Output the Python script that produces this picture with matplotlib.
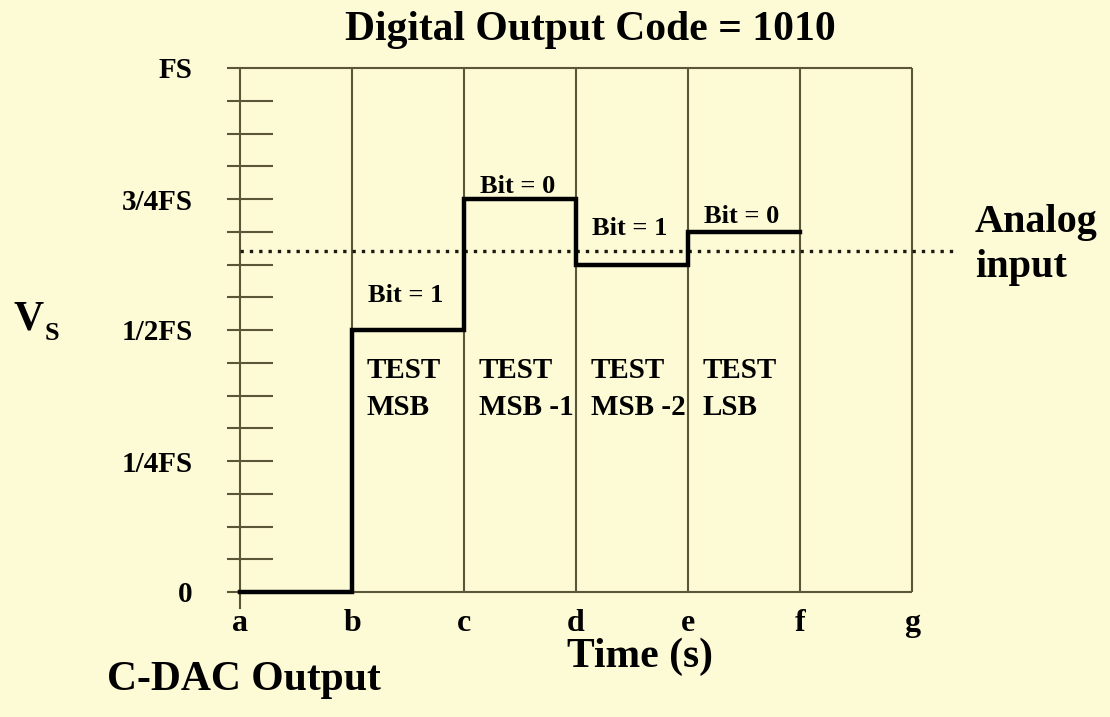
import matplotlib
matplotlib.use("Agg")
import matplotlib.pyplot as plt
import numpy as np

# ---- data ----
time_labels = ['a', 'b', 'c', 'd', 'e', 'f', 'g']
step_edges = [0, 1, 2, 3, 4, 5]                 # a..f
step_levels = [0.0, 0.5, 0.75, 0.625, 0.6875]   # C-DAC output (fraction of FS)
analog_input = 0.65
y_tick_values = [0, 0.25, 0.5, 0.75, 1.0]
y_tick_labels = ['0', '1/4FS', '1/2FS', '3/4FS', 'FS']
bit_labels = ['Bit = 1', 'Bit = 0', 'Bit = 1', 'Bit = 0']
test_labels = ['TEST\nMSB', 'TEST\nMSB -1', 'TEST\nMSB -2', 'TEST\nLSB']

# ---- style ----
BG = '#fdfad6'
GRID = '#5b5637'
FONT = 'Liberation Serif'
plt.rcParams['font.family'] = [FONT, 'DejaVu Serif']
plt.rcParams['font.weight'] = 'bold'

W, H = 1110, 717
fig = plt.figure(figsize=(W / 100, H / 100), dpi=100, facecolor=BG)
x0, x1, y0, y1 = 240, 912, 592, 68
ax = fig.add_axes([x0 / W, 1 - y0 / H, (x1 - x0) / W, (y0 - y1) / H])
ax.set_facecolor(BG)
ax.set_xlim(0, len(time_labels) - 1)
ax.set_ylim(0, 1)
for s in ax.spines.values():
    s.set_visible(False)

# grid verticals
n = len(time_labels) - 1
ax.vlines(range(1, n + 1), 0, 1, color=GRID, lw=1.5, clip_on=False)
# left axis (extends slightly below 0)
ax.vlines(0, -0.033, 1, color=GRID, lw=1.5, clip_on=False)
# top and bottom borders
ax.hlines([0, 1], -0.116, n, color=GRID, lw=1.5, clip_on=False)
# small ticks every 1/16 FS
ticks16 = np.linspace(0, 1, 17)[1:-1]
ax.hlines(ticks16, -0.116, 0.295, color=GRID, lw=1.5, clip_on=False)

# analog input dotted line
ax.plot([0, 6.38], [analog_input, analog_input], color='#1a1a10', lw=2.4,
        linestyle=(0, (1, 1.8)), clip_on=False, zorder=3)

# staircase
xs = list(step_edges)
ys = list(step_levels) + [step_levels[-1]]
ax.plot(xs, ys, drawstyle='steps-post', color='black', lw=3.2,
        solid_joinstyle='miter', clip_on=False, zorder=4)

# bit labels
bit_offsets = [25, 9, 26, 11]
for i, (lab, off) in enumerate(zip(bit_labels, bit_offsets)):
    ax.annotate(lab, xy=(step_edges[i + 1] + 0.5 - 0.02, step_levels[i + 1]),
                xytext=(0, off), textcoords='offset points',
                ha='center', va='center', fontsize=19, fontweight='bold')

# test labels
for i, lab in enumerate(test_labels):
    ax.text(step_edges[i + 1] + 0.13, 0.387, lab, ha='left', va='center',
            fontsize=21, fontweight='bold', linespacing=1.45)

# ticks
ax.set_yticks(y_tick_values)
ax.set_yticklabels(y_tick_labels, fontsize=21, fontweight='bold')
ax.set_xticks(range(len(time_labels)))
ax.set_xticklabels(time_labels, fontsize=23, fontweight='bold')
ax.tick_params(axis='y', length=0, pad=34)
ax.tick_params(axis='x', length=0, pad=12)

# texts
fig.text(590 / W, 1 - 30 / H, 'Digital Output Code = 1010', ha='center',
         va='center', fontsize=30, fontweight='bold')
fig.text(640 / W, 1 - 657 / H, 'Time (s)', ha='center', va='center',
         fontsize=30, fontweight='bold')
fig.text(107 / W, 1 - 680 / H, 'C-DAC Output', ha='left', va='center',
         fontsize=30, fontweight='bold')
fig.text(975 / W, 1 - 245 / H, 'Analog\ninput', ha='left', va='center',
         fontsize=29, fontweight='bold', linespacing=1.3)
fig.text(14 / W, 1 - 330 / H, 'V', ha='left', va='baseline',
         fontsize=30, fontweight='bold')
fig.text(45 / W, 1 - 340 / H, 'S', ha='left', va='baseline',
         fontsize=19, fontweight='bold')

fig.savefig('out.png', dpi=100, facecolor=BG)
